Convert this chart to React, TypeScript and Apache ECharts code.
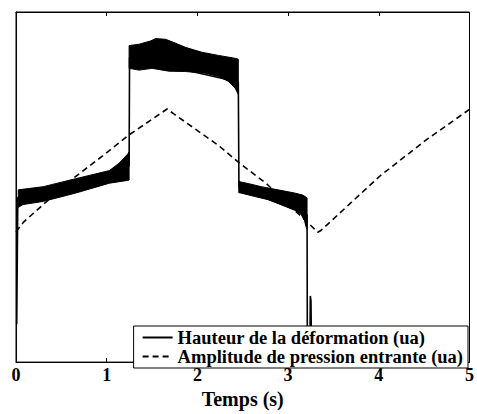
import React, { useEffect, useRef } from "react";
import * as echarts from "echarts";

const hauteurName = "Hauteur de la déformation (ua)";
const pressionName = "Amplitude de pression entrante (ua)";
const axisTitle = "Temps (s)";

// Amplitude de pression entrante (dashed)
const pressionT = [0, 0.08, 0.3, 0.627, 0.955, 1.247, 1.666, 1.74, 2.232, 2.451, 2.76, 3.235, 3.326, 3.362, 4.019, 4.53, 5.0];
const pressionV = [37.2, 39.9, 45.0, 52.4, 58.9, 64.9, 72.3, 70.9, 61.9, 57.1, 51.0, 39.4, 37.1, 37.6, 53.3, 63.6, 72.2];

// Hauteur de la déformation: thin trace (jumps, spikes)
const hauteurT = [0.008, 0.02, 1.247, 1.252, 2.451, 2.458, 3.209, 3.213, 3.238, 3.245, 3.252, 3.262, 5];
const hauteurV = [10.8, 47, 56, 87, 80, 50, 42, -5, -5, 18.9, 17.5, -5, -5];

// Hauteur de la déformation: noisy band envelopes [t, value]
const band1Upper = [[0.025, 49.2], [0.3, 50.1], [0.66, 52.4], [1.03, 54.7], [1.14, 56.9], [1.23, 59.4], [1.247, 60]];
const band1Lower = [[0.025, 44.2], [0.077, 45], [0.3, 45.9], [0.66, 48.3], [1.03, 51.1], [1.23, 51.9], [1.247, 52]];
const band2Upper = [[1.247, 90.4], [1.357, 90.8], [1.485, 91.75], [1.539, 92.4], [1.649, 92.2], [1.74, 91.3], [1.868, 89.9], [2.049, 88.5], [2.232, 87.6], [2.432, 86.7], [2.451, 86.5]];
const band2Lower = [[1.247, 83.9], [1.357, 83.4], [1.499, 83.9], [1.685, 83.1], [1.868, 83.0], [2.086, 82.5], [2.232, 81.6], [2.341, 80.2], [2.415, 78.3], [2.451, 76.5]];
const band3Upper = [[2.456, 51.8], [2.469, 51.5], [2.56, 51.0], [2.706, 50.1], [2.888, 49.2], [3.071, 48.3], [3.162, 47.7], [3.209, 46.9]];
const band3Lower = [[2.456, 48.4], [2.487, 48.25], [2.633, 47.3], [2.779, 46.4], [2.924, 45.0], [3.071, 43.6], [3.143, 42.2], [3.181, 40.4], [3.198, 38.6], [3.209, 38]];

const FONT = "Liberation Serif";

export default function App() {
  const ref = useRef<HTMLDivElement>(null);
  useEffect(() => {
    if (!ref.current) return;
    const chart = echarts.init(ref.current, undefined, { renderer: "svg" });
    const bands = [
      { upper: band1Upper, lower: band1Lower },
      { upper: band2Upper, lower: band2Lower },
      { upper: band3Upper, lower: band3Lower },
    ];
    const tickStyle = { show: true, inside: true, length: 4, lineStyle: { color: "#000", width: 1 } };
    chart.setOption({
      animation: false,
      backgroundColor: "#fff",
      grid: { left: 16, right: 4, top: 12, bottom: 42, show: true, borderColor: "#000", borderWidth: 1 },
      legend: {
        data: [hauteurName, pressionName],
        orient: "vertical",
        right: 9,
        bottom: 46,
        backgroundColor: "#fff",
        borderColor: "#000",
        borderWidth: 1,
        borderRadius: 0,
        padding: [2, 5, 2, 8],
        itemGap: 0,
        itemWidth: 30,
        itemHeight: 14,
        itemStyle: { opacity: 0 },
        textStyle: { fontFamily: FONT, fontWeight: "bold", fontSize: 18.5, color: "#000" },
      },
      xAxis: [
        {
          type: "value", min: 0, max: 5, interval: 1, position: "bottom",
          axisLine: { show: true, lineStyle: { color: "#000", width: 1 } },
          axisTick: tickStyle,
          axisLabel: { color: "#000", fontFamily: FONT, fontWeight: "bold", fontSize: 18, margin: 4 },
          splitLine: { show: false },
          name: axisTitle, nameLocation: "middle", nameGap: 23,
          nameTextStyle: { color: "#000", fontFamily: FONT, fontWeight: "bold", fontSize: 20 },
        },
        {
          type: "value", min: 0, max: 5, interval: 1, position: "top",
          axisLine: { show: true, lineStyle: { color: "#000", width: 1 } },
          axisTick: tickStyle,
          axisLabel: { show: false },
          splitLine: { show: false },
        },
      ],
      yAxis: {
        type: "value", min: 0, max: 100,
        axisLine: { show: true, lineStyle: { color: "#000", width: 1 } },
        axisTick: { show: false }, axisLabel: { show: false }, splitLine: { show: false },
      },
      series: [
        {
          type: "custom",
          coordinateSystem: "cartesian2d",
          xAxisIndex: 0,
          clip: true,
          silent: true,
          data: bands.map((b) => [b.upper[0][0], b.upper[0][1]]),
          encode: { x: 0, y: 1 },
          renderItem: (params: any, api: any) => {
            const b = bands[params.dataIndex];
            const pts = b.upper.map((p) => api.coord(p)).concat(b.lower.slice().reverse().map((p) => api.coord(p)));
            return { type: "polygon", shape: { points: pts }, style: { fill: "#000", stroke: "#000", lineWidth: 1 } };
          },
          z: 2,
        },
        {
          name: hauteurName,
          type: "line",
          xAxisIndex: 0,
          data: hauteurT.map((t, i) => [t, hauteurV[i]]),
          symbol: "none",
          clip: true,
          lineStyle: { color: "#000", width: 1.6, type: "solid" },
          itemStyle: { color: "#000" },
          z: 3,
        },
        {
          name: pressionName,
          type: "line",
          xAxisIndex: 0,
          data: pressionT.map((t, i) => [t, pressionV[i]]),
          symbol: "none",
          clip: true,
          lineStyle: { color: "#000", width: 1.6, type: [6, 4] },
          itemStyle: { color: "#000" },
          z: 3,
        },
      ],
    });
    return () => chart.dispose();
  }, []);
  return <div ref={ref} style={{ position: "absolute", left: 0, top: 0, width: 477, height: 414 }} />;
}
